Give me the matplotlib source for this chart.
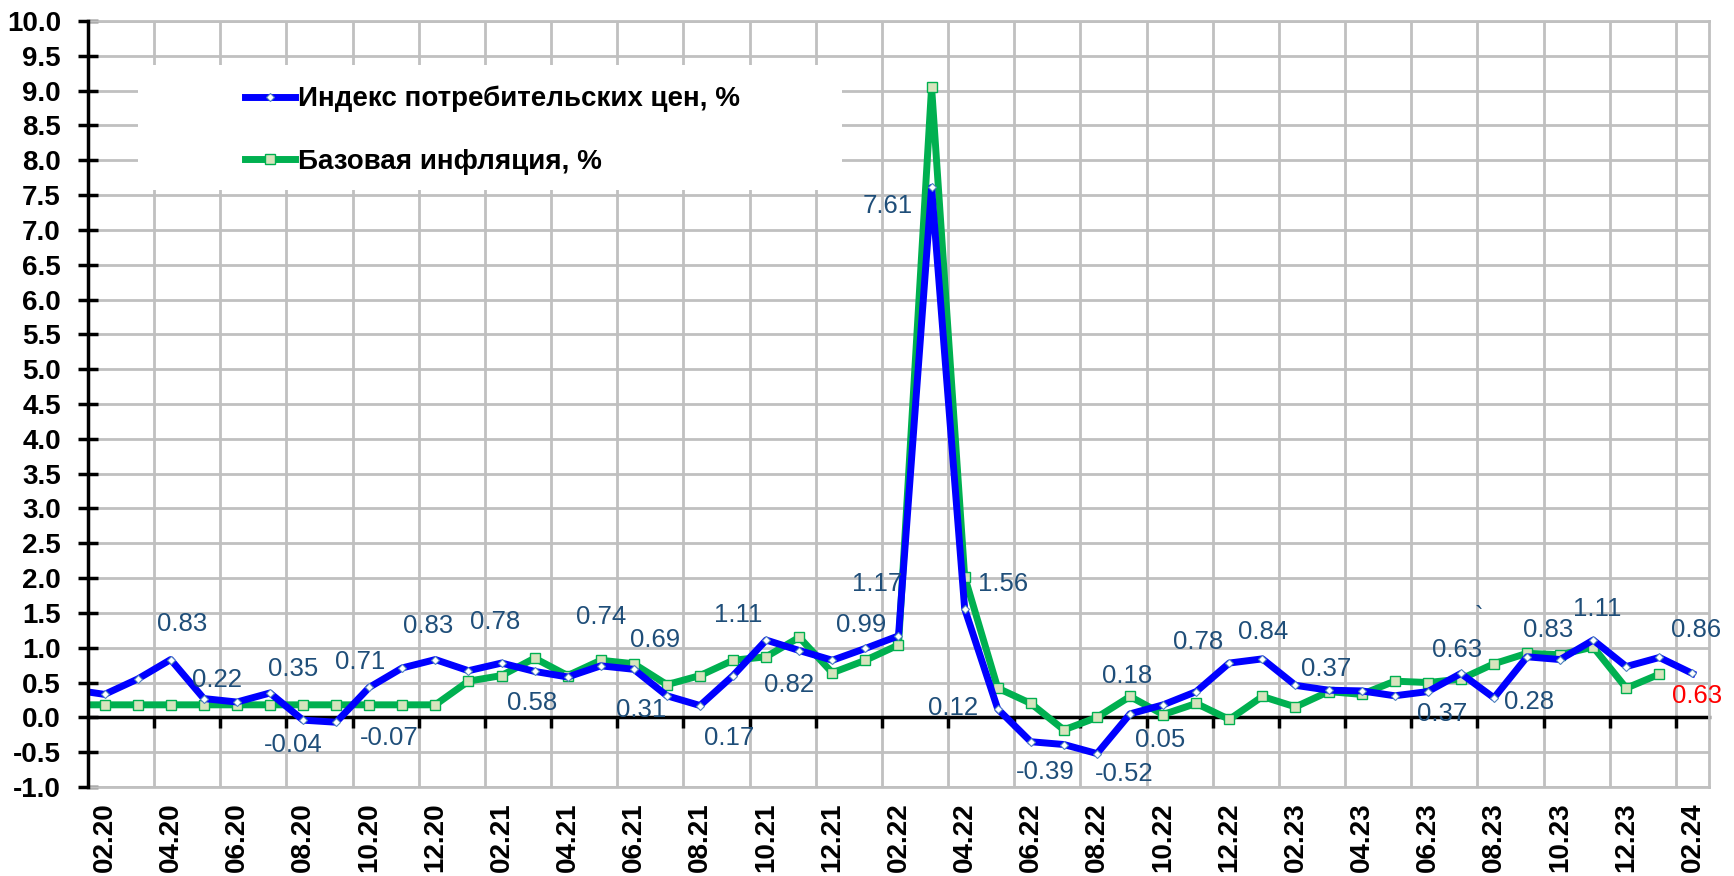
import matplotlib
matplotlib.use('Agg')
import numpy as np
import matplotlib.pyplot as plt
from matplotlib.patches import Rectangle

plt.rcParams['font.family'] = ['Liberation Sans', 'DejaVu Sans']

# monthly points 01.20 ... 02.24 (01.20 sits just left of the visible range)
cpi = [0.40, 0.33, 0.55, 0.83, 0.27, 0.22, 0.35, -0.04, -0.07, 0.43, 0.71, 0.83,
       0.67, 0.78, 0.66, 0.58, 0.74, 0.69, 0.31, 0.17, 0.60, 1.11, 0.96, 0.82,
       0.99, 1.17, 7.61, 1.56, 0.12, -0.35, -0.39, -0.52, 0.05, 0.18, 0.37, 0.78,
       0.84, 0.46, 0.39, 0.38, 0.31, 0.37, 0.63, 0.28, 0.87, 0.83, 1.11, 0.73,
       0.86, 0.63]
core = [0.18, 0.18, 0.18, 0.18, 0.18, 0.18, 0.18, 0.18, 0.18, 0.18, 0.18, 0.18,
        0.52, 0.60, 0.85, 0.60, 0.82, 0.77, 0.47, 0.60, 0.82, 0.87, 1.15, 0.64,
        0.82, 1.04, 9.05, 2.02, 0.42, 0.20, -0.18, 0.00, 0.30, 0.04, 0.20, -0.03,
        0.30, 0.15, 0.37, 0.33, 0.52, 0.50, 0.55, 0.77, 0.92, 0.90, 1.01, 0.42,
        0.62, np.nan]
x = np.arange(-1, 49)

tick_labels = ['02.20', '04.20', '06.20', '08.20', '10.20', '12.20',
               '02.21', '04.21', '06.21', '08.21', '10.21', '12.21',
               '02.22', '04.22', '06.22', '08.22', '10.22', '12.22',
               '02.23', '04.23', '06.23', '08.23', '10.23', '12.23', '02.24']

# data labels as placed on the original chart: text, month index, height
lbl_text = ['0.83', '0.22', '0.35', '-0.04', '0.71', '-0.07', '0.83', '0.78',
            '0.58', '0.74', '0.69', '0.31', '1.11', '0.17', '0.82', '0.99',
            '1.17', '7.61', '1.56', '0.12', '-0.39', '-0.52', '0.18', '0.05',
            '0.78', '0.84', '0.37', '0.63', '0.37', '0.28', '0.83', '1.11',
            '0.86', '0.63', '`']
lbl_x = [2.36, 3.39, 5.71, 5.71, 7.74, 8.61, 9.79, 11.80,
         12.94, 15.0, 16.64, 16.21, 19.16, 18.89, 20.70, 22.86,
         23.34, 23.66, 27.17, 25.66, 28.43, 30.82, 30.90, 31.91,
         33.07, 35.03, 36.93, 40.89, 40.42, 43.07, 43.65, 45.13,
         48.11, 48.13, 41.55]
lbl_y = [1.34, 0.53, 0.69, -0.40, 0.79, -0.30, 1.31, 1.37,
         0.20, 1.44, 1.11, 0.10, 1.47, -0.29, 0.47, 1.32,
         1.92, 7.34, 1.92, 0.14, -0.79, -0.81, 0.59, -0.32,
         1.08, 1.23, 0.69, 0.97, 0.05, 0.22, 1.25, 1.55,
         1.26, 0.30, 1.44]

fig = plt.figure(figsize=(17.34, 8.76), dpi=100)
ax = fig.add_axes([88 / 1734, 1 - 787 / 876, (1709 - 88) / 1734, (787 - 21) / 876])

ax.plot(x, core, color='#00B050', lw=5, marker='s', ms=6.5,
        mfc='#D7E4BD', mec='#00B050', mew=1, zorder=3,
        label='Базовая инфляция, %')
ax.plot(x, cpi, color='#0000FF', lw=5, marker='D', ms=4,
        mfc='white', mec='#4F81BD', mew=0.8, zorder=4,
        label='Индекс потребительских цен, %')

for t, xx, yy in zip(lbl_text, lbl_x, lbl_y):
    c = 'red' if (t == '0.63' and xx > 48) else '#1F4E79'
    ax.text(xx, yy, t, ha='center', va='center', fontsize=18.5, color=c, zorder=6)

ax.set_xlim(-0.5, 48.5)
ax.set_ylim(-1, 10)
ax.set_yticks(np.arange(-1, 10.01, 0.5))
ax.set_yticklabels(['%.1f' % v for v in np.arange(-1, 10.01, 0.5)],
                   fontsize=20, fontweight='bold')
ax.set_xticks(np.arange(0, 49, 2))
ax.set_xticklabels(tick_labels, rotation=90, fontsize=20, fontweight='bold')
ax.set_xticks(np.arange(1.5, 48, 2), minor=True)
ax.tick_params(axis='x', which='both', length=0, pad=11)
ax.tick_params(axis='y', direction='inout', length=15, width=2.5, pad=12)
ax.grid(True, axis='y', color='#C0C0C0', lw=2)
ax.grid(True, axis='x', which='minor', color='#C0C0C0', lw=2)
ax.set_axisbelow(True)

for s in ['top', 'right', 'bottom']:
    ax.spines[s].set_color('#C0C0C0')
    ax.spines[s].set_linewidth(2)
ax.spines['left'].set_linewidth(2.5)
ax.spines['left'].set_zorder(5)

# category axis crossing at zero
sec = ax.secondary_xaxis(1 / 11)
sec.set_xticks(np.arange(1.5, 48, 2), labels=[])
sec.tick_params(direction='out', length=8, width=2.5, color='black')
sec.spines['bottom'].set_linewidth(2.5)
sec.set_zorder(2)

# white legend backdrop
ax.add_patch(Rectangle(((138 - 88) / 1621, (787 - 190) / 766), (842 - 138) / 1621,
                       125 / 766, transform=ax.transAxes, facecolor='white',
                       edgecolor='none', zorder=2.2))
h, l = ax.get_legend_handles_labels()
leg = ax.legend(h[::-1], l[::-1], loc='upper left',
                bbox_to_anchor=((245 - 88) / 1621, (787 - 86) / 766),
                frameon=False, fontsize=20, borderpad=0, borderaxespad=0,
                handlelength=1.8, handletextpad=0.1, labelspacing=1.3,
                numpoints=1)
for t in leg.get_texts():
    t.set_fontweight('bold')
leg.set_zorder(7)

fig.savefig('out.png', dpi=100)
